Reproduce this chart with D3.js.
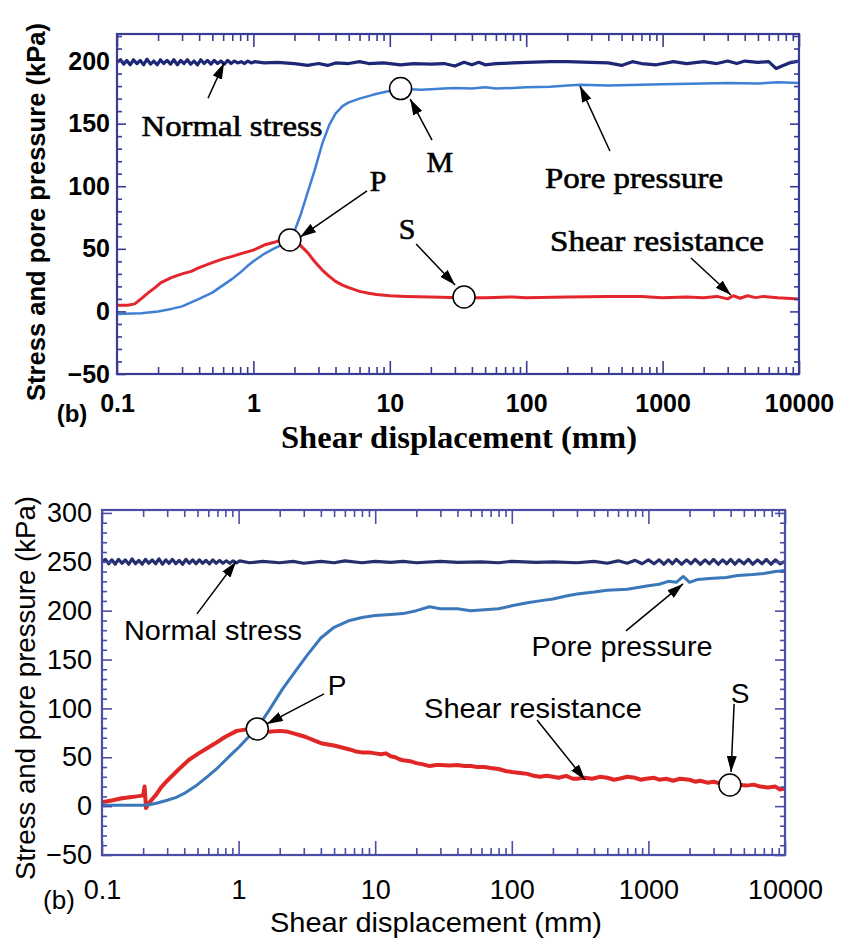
<!DOCTYPE html>
<html>
<head>
<meta charset="utf-8">
<script src="https://cdn.jsdelivr.net/npm/d3@7"></script>
<style>
  body { margin: 0; background: #fff; }
  svg { display: block; }
</style>
</head>
<body>
<svg width="842" height="940"></svg>
<script>
// ---- data: [shear displacement (mm), kPa] ----

// upper panel
var topNormal = [[0.1,199],[0.106,201],[0.112,197.5],[0.118,200.5],[0.125,197],[0.132,201],[0.14,198],[0.148,200.5],[0.157,197],[0.166,201.5],[0.176,197.5],[0.186,200],[0.197,197],[0.208,201],[0.22,198],[0.233,200.5],[0.247,197.5],[0.261,201],[0.277,197],[0.293,200.5],[0.31,198],[0.328,201],[0.347,197.5],[0.367,200],[0.389,197],[0.411,201],[0.435,198],[0.461,200.5],[0.488,197.5],[0.516,200.5],[0.546,198],[0.578,200],[0.612,197.5],[0.648,200.5],[0.686,198],[0.726,200],[0.768,198.5],[0.813,199.5],[0.861,198],[0.911,200],[0.964,198.5],[1.02,199.5],[1.2,198.5],[1.5,199],[2,198],[2.5,196.5],[3,198],[3.5,196.5],[4,198.5],[5,198],[6,199.5],[7,198],[9,198.5],[12,197],[15,198],[20,197.5],[25,198],[30,196],[35,199],[40,197],[45,199],[50,197],[60,198],[80,198.5],[100,199],[150,199.5],[200,199.5],[300,199],[400,198.5],[500,196.5],[600,199.5],[700,198],[900,197],[1200,199.5],[1500,198],[2000,199.5],[2500,198],[3000,200],[3500,198],[4000,200],[5000,199],[6000,199.5],[6800,194],[7500,196],[8500,198.5],[10000,200]];
var topPore = [[0.1,-2],[0.15,-1.5],[0.2,0],[0.25,2],[0.3,4],[0.4,10],[0.5,15],[0.6,21],[0.7,26],[0.8,31],[0.9,36],[1,40],[1.2,46],[1.4,50],[1.6,53],[1.85,57],[2,64],[2.2,76],[2.5,95],[2.8,112],[3.2,134],[3.6,149],[4,158],[4.5,164],[5,167],[6,170],[7.5,173],[9,175],[12,178],[14,177.5],[17,177],[20,177.5],[25,178],[30,178.5],[40,178],[50,179],[60,178],[80,178.5],[100,179],[150,179.5],[200,180.5],[250,181],[400,180.5],[700,181],[1000,181.5],[2000,182],[3000,182.5],[5000,182],[7000,183],[10000,182.5]];
var topShear = [[0.1,5],[0.12,5],[0.135,6],[0.15,10],[0.17,15],[0.19,19],[0.21,23],[0.25,27],[0.3,30],[0.35,32],[0.4,35],[0.5,39],[0.6,42],[0.7,44],[0.8,46],[1,49],[1.2,53],[1.4,55],[1.6,57],[1.85,58],[2,57],[2.2,53],[2.5,47],[2.8,40],[3.2,33],[3.6,28],[4,24],[4.5,21],[5,19],[6,16],[7,14.5],[8,13.5],[10,12.5],[13,12],[20,11.5],[33,11],[50,11],[80,11.5],[100,11],[200,11.5],[400,12],[700,12],[1000,11],[1500,11.5],[2000,11],[2500,12],[3000,10],[3300,12.5],[3700,10.5],[4200,12.5],[4800,11],[5500,12],[7000,11],[10000,10]];

// lower panel
var botNormal = [[0.1,250],[0.106,252.5],[0.112,248],[0.118,252],[0.125,247.5],[0.132,252.5],[0.14,248.5],[0.148,252],[0.157,247.5],[0.166,253],[0.176,248],[0.186,251.5],[0.197,247.5],[0.208,252.5],[0.22,248.5],[0.233,252],[0.247,248],[0.261,253],[0.277,247.5],[0.293,252],[0.31,248.5],[0.328,252.5],[0.347,248],[0.367,251.5],[0.389,247.5],[0.411,252.5],[0.435,248.5],[0.461,252],[0.488,248],[0.516,252],[0.546,248.5],[0.578,251.5],[0.612,248],[0.648,252],[0.686,248.5],[0.726,251.5],[0.768,248.5],[0.813,251],[0.861,248.5],[0.911,251],[0.964,249],[1.02,251],[1.2,249],[1.5,250.5],[2,249],[2.5,250.5],[3,248.5],[4,250.5],[5,249],[6,251],[8,249],[10,250.5],[13,249.5],[16,250.5],[20,249],[30,250.5],[40,249.5],[60,250],[80,249],[100,250.5],[150,249.5],[200,250],[300,249],[400,250.5],[500,248.5],[600,251],[700,248.5],[800,251.5],[900,248],[1000,252],[1100,248],[1200,252],[1300,247.5],[1400,252],[1500,248],[1600,252.5],[1750,247.5],[1900,252],[2050,248],[2200,252.5],[2400,247.5],[2600,252],[2800,248],[3000,252.5],[3250,247.5],[3500,252],[3750,248],[4000,252.5],[4300,247.5],[4600,252],[5000,248],[5400,252.5],[5800,247.5],[6300,252],[6800,248],[7300,252.5],[7900,247.5],[8500,252],[9200,248],[10000,250.5]];
var botPore = [[0.1,1],[0.15,1],[0.2,1],[0.22,1.5],[0.25,3],[0.3,6],[0.35,9],[0.4,13],[0.5,22],[0.6,31],[0.7,39],[0.8,47],[0.9,54],[1,60],[1.15,69],[1.37,80],[1.67,98],[2.1,120],[2.6,138],[3.2,155],[4,172],[5,183],[6.5,190],[8,193],[10,195],[13,196],[16,197],[20,200],[25,204],[30,202],[40,202],[50,200],[63,201],[80,202],[100,205],[130,208],[160,210],[200,212],[250,215],[300,217],[400,219],[500,221],[700,222],[1000,225.5],[1200,227],[1400,230],[1600,229],[1800,235],[2000,229],[2300,232],[2800,233],[3700,234],[4500,236],[5800,237],[7000,238],[8500,240],[10000,241]];
var botShear = [[0.1,4],[0.12,6],[0.14,8],[0.16,9],[0.18,10],[0.2,11],[0.205,20],[0.21,-2],[0.22,3],[0.25,12],[0.27,19],[0.3,26],[0.36,37],[0.43,47],[0.51,54],[0.6,60],[0.67,64],[0.8,71],[0.97,77],[1.2,79],[1.37,79],[1.67,76],[2,77],[2.3,76],[2.6,74],[2.9,72],[3.2,70],[3.6,67],[4.1,64],[4.5,63],[5,62],[5.7,60],[6.5,58],[7.2,56],[8,55],[9,55],[10,54],[11,53],[12,54],[13,51],[14,50],[15,48],[16,47],[18,46],[20,44],[22,43],[25,41],[28,42],[30,42],[35,41.5],[40,42],[45,41],[50,41],[56,40],[63,40],[70,39],[80,38],[90,36],[100,35],[115,34],[130,33],[145,31],[160,30],[180,31],[200,30],[220,29],[250,31],[280,28],[300,28],[340,29],[388,28],[440,30],[500,29],[560,27],[610,28],[700,30],[800,29],[880,27],[960,28],[1100,29],[1200,27],[1350,28],[1520,26],[1700,28],[2000,27],[2200,25],[2400,26],[2700,24],[3000,25],[3400,23],[3740,23],[4200,24],[4500,22],[5200,21],[5900,22],[6600,20],[7500,19],[8500,20],[9200,17],[10000,18]];

// axes
var xDomain = [0.1, 10000];
var xLabels = [0.1, 1, 10, 100, 1000, 10000];
var topYDomain = [-50, 221.6];
var topYLabels = [-50, 0, 50, 100, 150, 200];
var botYDomain = [-50, 303];
var botYLabels = [-50, 0, 50, 100, 150, 200, 250, 300];

// annotations, in data units
var topNotes = [
  {text: "Normal stress", x: 0.697, y: 148.9},
  {text: "Pore pressure", x: 617, y: 107.3},
  {text: "Shear resistance", x: 910, y: 57},
  {text: "M", x: 23.3, y: 120.1},
  {text: "P", x: 8.19, y: 104.2},
  {text: "S", x: 13.4, y: 66.6}
];
var topArrows = [
  [[0.465, 170.4], [0.609, 198.4]],
  [[20.4, 136.9], [14.1, 169.6]],
  [[6.81, 96.2], [2.2, 59.4]],
  [[15.6, 53.8], [30.1, 21.1]],
  [[411, 128.1], [248, 180]],
  [[1615, 42.7], [3170, 13.1]]
];
var topPoints = [[1.85, 57], [12, 178], [35, 11.5]];

var botNotes = [
  {text: "Normal stress", x: 0.65, y: 179.3},
  {text: "Pore pressure", x: 641, y: 162.9},
  {text: "Shear resistance", x: 143, y: 99.4},
  {text: "P", x: 5.25, y: 123},
  {text: "S", x: 4690, y: 114.8}
];
var botArrows = [
  [[0.496, 196.7], [0.957, 250]],
  [[685, 179.3], [1791, 227.4]],
  [[4.22, 114.8], [1.61, 84.1]],
  [[153, 88.2], [344, 26.8]],
  [[4240, 104.6], [4030, 35]]
];
var botPoints = [[1.37, 79], [3950, 21.6]];


var svg = d3.select("svg");

svg.append("defs").append("marker")
    .attr("id", "head")
    .attr("viewBox", "0 0 16 10")
    .attr("refX", 16).attr("refY", 5)
    .attr("markerWidth", 16).attr("markerHeight", 10)
    .attr("markerUnits", "userSpaceOnUse")
    .attr("orient", "auto")
  .append("path")
    .attr("d", "M0,0L16,5L0,10Z")
    .attr("fill", "#000");

var SERIF = "'Liberation Serif','Times New Roman',serif",
    SANS = "'Liberation Sans',Arial,Helvetica,sans-serif";

drawPanel({
  id: "top",
  box: {left: 117, right: 799, top: 34, bottom: 374},
  yDomain: topYDomain, yLabels: topYLabels,
  frame: "#383c94",
  series: [
    {data: topShear, color: "#e3262b", width: 3},
    {data: topPore, color: "#3f80d4", width: 2.5},
    {data: topNormal, color: "#1d2775", width: 3.2}
  ],
  tickFont: {family: SANS, size: 25, weight: "bold"},
  xPad: 20, yPad: 7,
  ticks: {xMajor: 13, xMinor: 7, yMajor: 9, yMinor: 5},
  notes: topNotes, arrows: topArrows, points: topPoints,
  noteFont: {family: SERIF, size: 30, weight: "normal", stroke: 0.6},
  noteWidth: {"Normal stress": 181, "Pore pressure": 178, "Shear resistance": 214},
  yTitle: {x: 36, y: 212, len: 378, family: SANS, size: 25.5, weight: "bold"},
  xTitle: {x: 459, y: 437, len: 356, family: SERIF, size: 31, weight: "bold"},
  tag: {x: 72, y: 413, family: SANS, size: 24, weight: "bold"},
  radius: 11
});

drawPanel({
  id: "bot",
  box: {left: 102, right: 785, top: 510, bottom: 855},
  yDomain: botYDomain, yLabels: botYLabels,
  frame: "#4a4ea6",
  series: [
    {data: botShear, color: "#e12626", width: 4},
    {data: botPore, color: "#3b78ba", width: 3},
    {data: botNormal, color: "#262f6e", width: 3.2}
  ],
  tickFont: {family: SANS, size: 27, weight: "normal"},
  xPad: 25, yPad: 10,
  ticks: {xMajor: 14, xMinor: 7, yMajor: 10, yMinor: 5},
  notes: botNotes, arrows: botArrows, points: botPoints,
  noteFont: {family: SANS, size: 28, weight: "normal", stroke: 0},
  noteWidth: {"Normal stress": 178, "Pore pressure": 181, "Shear resistance": 218},
  yTitle: {x: 25, y: 688, len: 384, family: SANS, size: 27.5, weight: "normal"},
  xTitle: {x: 436, y: 922, len: 332, family: SANS, size: 28, weight: "normal"},
  tag: {x: 59, y: 900, family: SANS, size: 26, weight: "normal"},
  radius: 11
});


function drawPanel(cfg) {
  var b = cfg.box;

  var x = d3.scaleLog().domain(xDomain).range([b.left, b.right]),
      y = d3.scaleLinear().domain(cfg.yDomain).range([b.bottom, b.top]);

  var g = svg.append("g").attr("class", "panel-" + cfg.id);

  g.append("clipPath").attr("id", "clip-" + cfg.id)
    .append("rect")
      .attr("x", b.left).attr("y", b.top)
      .attr("width", b.right - b.left).attr("height", b.bottom - b.top);

  var line = d3.line()
      .x(function(d) { return x(d[0]); })
      .y(function(d) { return y(d[1]); });

  g.append("g").attr("clip-path", "url(#clip-" + cfg.id + ")")
    .selectAll("path")
    .data(cfg.series)
    .enter().append("path")
      .attr("d", function(s) { return line(s.data); })
      .attr("fill", "none")
      .attr("stroke", function(s) { return s.color; })
      .attr("stroke-width", function(s) { return s.width; })
      .attr("stroke-linejoin", "round");

  // ticks, all pointing into the frame
  var minorX = x.ticks().filter(function(v) { return xLabels.indexOf(v) < 0; });
  var minorY = d3.range(cfg.yDomain[0], cfg.yDomain[1], 10)
      .filter(function(v) { return v % 50 !== 0; });
  var t = cfg.ticks;

  function styleAxis(sel) {
    sel.select(".domain").remove();
    sel.selectAll("line").attr("stroke", cfg.frame).attr("stroke-width", 1.6);
    sel.selectAll("text")
        .attr("fill", "#000")
        .attr("font-family", cfg.tickFont.family)
        .attr("font-size", cfg.tickFont.size)
        .attr("font-weight", cfg.tickFont.weight);
  }

  g.append("g").attr("transform", "translate(0," + b.bottom + ")")
      .call(d3.axisBottom(x).tickValues(xLabels).tickSize(-t.xMajor)
        .tickPadding(cfg.xPad).tickFormat(d3.format("~g")))
      .call(styleAxis);
  g.append("g").attr("transform", "translate(0," + b.bottom + ")")
      .call(d3.axisBottom(x).tickValues(minorX).tickSize(-t.xMinor).tickFormat(""))
      .call(styleAxis);
  g.append("g").attr("transform", "translate(0," + b.top + ")")
      .call(d3.axisTop(x).tickValues(xLabels).tickSize(-t.xMajor).tickFormat(""))
      .call(styleAxis);
  g.append("g").attr("transform", "translate(0," + b.top + ")")
      .call(d3.axisTop(x).tickValues(minorX).tickSize(-t.xMinor).tickFormat(""))
      .call(styleAxis);

  g.append("g").attr("transform", "translate(" + b.left + ",0)")
      .call(d3.axisLeft(y).tickValues(cfg.yLabels).tickSize(-t.yMajor)
        .tickPadding(cfg.yPad).tickFormat(d3.format("d")))
      .call(styleAxis);
  g.append("g").attr("transform", "translate(" + b.left + ",0)")
      .call(d3.axisLeft(y).tickValues(minorY).tickSize(-t.yMinor).tickFormat(""))
      .call(styleAxis);
  g.append("g").attr("transform", "translate(" + b.right + ",0)")
      .call(d3.axisRight(y).tickValues(cfg.yLabels).tickSize(-t.yMajor).tickFormat(""))
      .call(styleAxis);
  g.append("g").attr("transform", "translate(" + b.right + ",0)")
      .call(d3.axisRight(y).tickValues(minorY).tickSize(-t.yMinor).tickFormat(""))
      .call(styleAxis);

  g.append("rect")
      .attr("x", b.left).attr("y", b.top)
      .attr("width", b.right - b.left).attr("height", b.bottom - b.top)
      .attr("fill", "none")
      .attr("stroke", cfg.frame)
      .attr("stroke-width", 2.2);

  // marked points
  g.selectAll("circle.pt")
    .data(cfg.points)
    .enter().append("circle")
      .attr("class", "pt")
      .attr("cx", function(d) { return x(d[0]); })
      .attr("cy", function(d) { return y(d[1]); })
      .attr("r", cfg.radius)
      .attr("fill", "#fff")
      .attr("stroke", "#000")
      .attr("stroke-width", 1.5);

  // arrows
  g.selectAll("line.arrow")
    .data(cfg.arrows)
    .enter().append("line")
      .attr("class", "arrow")
      .attr("x1", function(d) { return x(d[0][0]); })
      .attr("y1", function(d) { return y(d[0][1]); })
      .attr("x2", function(d) { return x(d[1][0]); })
      .attr("y2", function(d) { return y(d[1][1]); })
      .attr("stroke", "#000")
      .attr("stroke-width", 1.5)
      .attr("marker-end", "url(#head)");

  // labels
  var nf = cfg.noteFont;
  g.selectAll("text.note")
    .data(cfg.notes)
    .enter().append("text")
      .attr("class", "note")
      .attr("x", function(d) { return x(d.x); })
      .attr("y", function(d) { return y(d.y); })
      .attr("text-anchor", "middle")
      .attr("dominant-baseline", "central")
      .attr("font-family", nf.family)
      .attr("font-size", nf.size)
      .attr("font-weight", nf.weight)
      .attr("fill", "#000")
      .attr("stroke", nf.stroke ? "#000" : "none")
      .attr("stroke-width", nf.stroke)
      .each(function(d) {
        var w = cfg.noteWidth[d.text];
        if (w) d3.select(this).attr("textLength", w).attr("lengthAdjust", "spacingAndGlyphs");
      })
      .text(function(d) { return d.text; });

  var yt = cfg.yTitle;
  g.append("text")
      .attr("transform", "translate(" + yt.x + "," + yt.y + ") rotate(-90)")
      .attr("text-anchor", "middle")
      .attr("dominant-baseline", "central")
      .attr("font-family", yt.family)
      .attr("font-size", yt.size)
      .attr("font-weight", yt.weight)
      .attr("textLength", yt.len)
      .attr("lengthAdjust", "spacingAndGlyphs")
      .text("Stress and pore pressure (kPa)");

  var xt = cfg.xTitle;
  g.append("text")
      .attr("x", xt.x).attr("y", xt.y)
      .attr("text-anchor", "middle")
      .attr("dominant-baseline", "central")
      .attr("font-family", xt.family)
      .attr("font-size", xt.size)
      .attr("font-weight", xt.weight)
      .attr("textLength", xt.len)
      .attr("lengthAdjust", "spacingAndGlyphs")
      .text("Shear displacement (mm)");

  var tg = cfg.tag;
  g.append("text")
      .attr("x", tg.x).attr("y", tg.y)
      .attr("text-anchor", "middle")
      .attr("dominant-baseline", "central")
      .attr("font-family", tg.family)
      .attr("font-size", tg.size)
      .attr("font-weight", tg.weight)
      .text("(b)");
}
</script>
</body>
</html>
